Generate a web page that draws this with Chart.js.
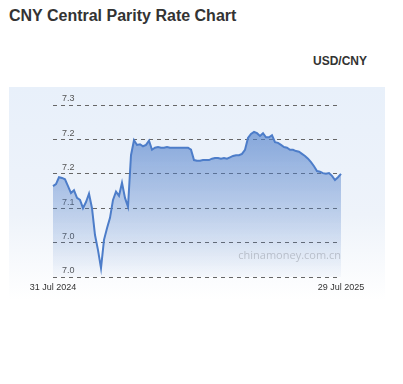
<!DOCTYPE html>
<html>
<head>
<meta charset="utf-8">
<script src="https://cdn.jsdelivr.net/npm/chart.js@4.4.1/dist/chart.umd.min.js"></script>
<style>
  body { margin: 0; background: #fff; font-family: "Liberation Sans", Arial, sans-serif; }
  #title { position: absolute; left: 9px; top: 7px; font-size: 16px; font-weight: bold; color: #333; }
  #pair { position: absolute; right: 36px; top: 54px; font-size: 12px; font-weight: bold; color: #333; }
  #panel { position: absolute; left: 9px; top: 87px; width: 376px; height: 213px;
           background: linear-gradient(#e8f0fa 0%, #eef3fa 60%, #ffffff 100%); }
</style>
</head>
<body>
<div id="title">CNY Central Parity Rate Chart</div>
<div id="pair">USD/CNY</div>
<div id="panel"><canvas id="rateChart"></canvas></div>
<script>
// USD/CNY central parity, roughly every 4th trading day, 31 Jul 2024 - 29 Jul 2025
const firstDate = "31 Jul 2024";
const lastDate = "29 Jul 2025";
const rates = [
  7.132, 7.135, 7.145, 7.144, 7.142, 7.132, 7.122, 7.126, 7.115, 7.112,
  7.100, 7.109, 7.121, 7.100, 7.061, 7.039, 7.013, 7.054, 7.071, 7.086,
  7.112, 7.124, 7.118, 7.137, 7.115, 7.102, 7.177, 7.199, 7.192, 7.193,
  7.190, 7.192, 7.198, 7.185, 7.188, 7.189, 7.188, 7.188, 7.189, 7.188,
  7.188, 7.188, 7.188, 7.188, 7.188, 7.188, 7.185, 7.170, 7.169, 7.169,
  7.170, 7.170, 7.170, 7.172, 7.173, 7.173, 7.172, 7.173, 7.172, 7.174,
  7.176, 7.177, 7.177, 7.179, 7.185, 7.202, 7.208, 7.211, 7.209, 7.205,
  7.209, 7.203, 7.203, 7.206, 7.196, 7.195, 7.192, 7.189, 7.188, 7.185,
  7.185, 7.183, 7.182, 7.179, 7.176, 7.172, 7.167, 7.161, 7.154, 7.153,
  7.151, 7.150, 7.151, 7.147, 7.141, 7.145, 7.150
];
const labels = rates.map((_, i) => i === 0 ? firstDate : (i === rates.length - 1 ? lastDate : ""));
const yMin = 7.0;
const yMax = 7.25;
const yStep = 0.05;

// watermark plus the two end dates under the plot
const extras = {
  id: "extras",
  afterDatasetsDraw(chart) {
    const { ctx, chartArea, scales } = chart;
    ctx.save();
    ctx.font = "11px 'Open Sans', 'Liberation Sans', sans-serif";
    ctx.fillStyle = "rgba(150,155,165,0.55)";
    ctx.textAlign = "right";
    ctx.textBaseline = "middle";
    ctx.fillText("chinamoney.com.cn", chartArea.right, chartArea.bottom - 21);

    ctx.font = "9px 'Liberation Sans', Arial, sans-serif";
    ctx.fillStyle = "#333";
    ctx.textAlign = "center";
    labels.forEach((lab, i) => {
      if (lab) ctx.fillText(lab, scales.x.getPixelForValue(i), chartArea.bottom + 11);
    });
    ctx.restore();
  }
};

new Chart(document.getElementById("rateChart"), {
  type: "line",
  data: {
    labels: labels,
    datasets: [{
      data: rates,
      borderColor: "#4d7dc9",
      borderWidth: 2,
      pointRadius: 0,
      tension: 0,
      fill: "start",
      backgroundColor: (context) => {
        const area = context.chart.chartArea;
        if (!area) return "rgba(77,125,201,0.4)";
        const g = context.chart.ctx.createLinearGradient(0, area.top, 0, area.bottom);
        g.addColorStop(0, "rgba(77,125,201,0.75)");
        g.addColorStop(0.5, "rgba(77,125,201,0.4)");
        g.addColorStop(1, "rgba(77,125,201,0.03)");
        return g;
      }
    }]
  },
  options: {
    responsive: true,
    maintainAspectRatio: false,
    animation: false,
    layout: { padding: { left: 26, right: 44, top: 18, bottom: 23 } },
    plugins: { legend: { display: false }, tooltip: { enabled: false } },
    scales: {
      x: {
        display: false
      },
      y: {
        min: yMin,
        max: yMax,
        border: { display: false, dash: [4, 4] },
        grid: { color: "#666", lineWidth: 1, drawTicks: false },
        ticks: {
          stepSize: yStep,
          mirror: true,
          padding: 9,
          labelOffset: -6,
          color: "#555",
          font: { size: 9, family: "'Liberation Sans', Arial, sans-serif" },
          callback: (v) => v.toFixed(1)
        }
      }
    }
  },
  plugins: [extras]
});
</script>
</body>
</html>
